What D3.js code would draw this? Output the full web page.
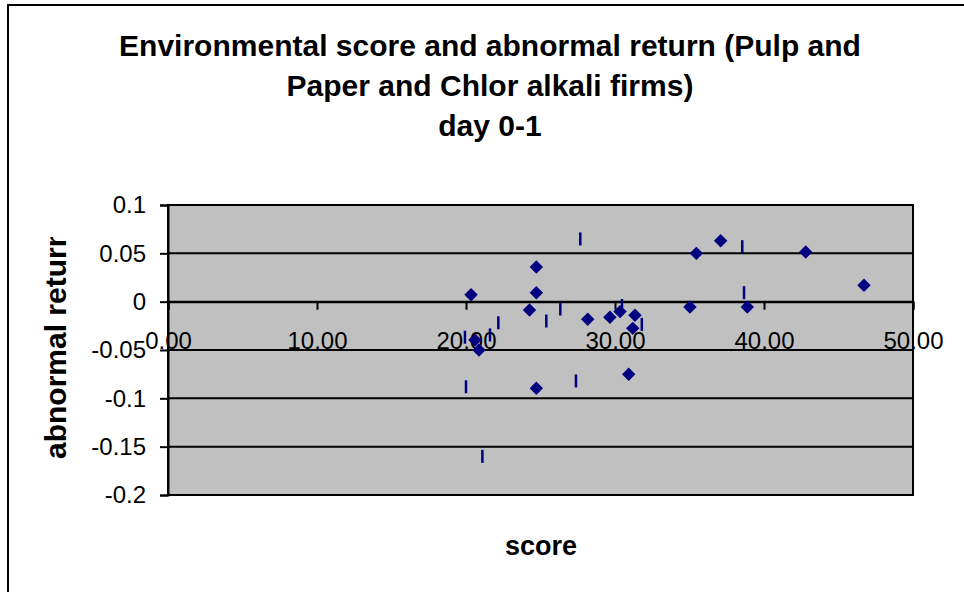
<!DOCTYPE html>
<html>
<head>
<meta charset="utf-8">
<script src="https://cdn.jsdelivr.net/npm/d3@7"></script>
<style>
  html, body { margin: 0; padding: 0; background: #ffffff; }
  svg { display: block; font-family: "Liberation Sans", Arial, sans-serif; }
</style>
</head>
<body>
<svg id="chart" width="964" height="592"></svg>
<script>
// ---- data ----
const titleLines = ["Environmental score and abnormal return (Pulp and", "Paper and Chlor alkali firms)", "day 0-1"];
const xTitle = "score";
const yTitle = "abnormal return";

const xTicks = [0, 10, 20, 30, 40, 50];
const yTicks = [0.1, 0.05, 0, -0.05, -0.1, -0.15, -0.2];

// series 1: diamond markers
const diamondScores  = [20.34, 24.72, 24.72, 24.26, 28.17, 29.66, 30.34, 31.34, 31.19, 20.60, 20.87, 30.92, 24.72, 35.46, 37.09, 42.80, 46.71, 35.03, 38.88];
const diamondReturns = [0.0072, 0.0359, 0.0093, -0.0086, -0.0182, -0.0162, -0.0103, -0.0140, -0.0276, -0.0396, -0.0500, -0.0750, -0.0896, 0.0500, 0.0630, 0.0514, 0.0170, -0.0055, -0.0055];

// series 2: vertical dash markers
const dashScores  = [27.67, 26.33, 25.39, 22.17, 21.61, 19.93, 20.00, 27.38, 30.47, 21.10, 38.54, 38.66, 31.80];
const dashReturns = [0.0649, -0.0076, -0.0200, -0.0218, -0.0344, -0.0368, -0.0880, -0.0820, -0.0040, -0.1600, 0.0569, 0.0093, -0.0235];

// ---- layout ----
const svg = d3.select("#chart");
const plot = { left: 168, right: 913, top: 205, bottom: 495 };
const navy = "#000080";
const fontFam = "'Liberation Sans', Arial, sans-serif";

const x = d3.scaleLinear().domain([0, 50]).range([plot.left, plot.right]);
const y = d3.scaleLinear().domain([-0.2, 0.1]).range([plot.bottom, plot.top]);

// outer chart border
svg.append("rect")
  .attr("x", 8).attr("y", 5).attr("width", 980).attr("height", 620)
  .attr("fill", "#ffffff").attr("stroke", "#000").attr("stroke-width", 2);

// title
const title = svg.append("text")
  .attr("text-anchor", "middle")
  .attr("font-weight", "bold")
  .attr("font-size", 30)
  .attr("fill", "#000");
titleLines.forEach((t, i) => {
  title.append("tspan").attr("x", 490).attr("y", 56 + i * 40).text(t);
});

// plot background
svg.append("rect")
  .attr("x", plot.left).attr("y", plot.top)
  .attr("width", plot.right - plot.left).attr("height", plot.bottom - plot.top)
  .attr("fill", "#c0c0c0");

// horizontal gridlines
svg.append("g").selectAll("line").data(yTicks).join("line")
  .attr("x1", plot.left).attr("x2", plot.right)
  .attr("y1", d => y(d)).attr("y2", d => y(d))
  .attr("stroke", "#000").attr("stroke-width", 2);

// plot border
svg.append("rect")
  .attr("x", plot.left).attr("y", plot.top)
  .attr("width", plot.right - plot.left).attr("height", plot.bottom - plot.top)
  .attr("fill", "none").attr("stroke", "#000").attr("stroke-width", 2);

// y axis (left)
const yAxis = d3.axisLeft(y).tickValues(yTicks).tickSize(8).tickPadding(14)
  .tickFormat(d => String(+d.toFixed(2)));
const gy = svg.append("g").attr("transform", `translate(${plot.left},0)`).call(yAxis);
gy.select(".domain").attr("stroke", "#000").attr("stroke-width", 2);
gy.selectAll(".tick line").attr("stroke", "#000").attr("stroke-width", 2);
gy.selectAll(".tick text").attr("font-size", 24).attr("fill", "#000")
  .attr("font-family", fontFam);

// x axis crossing at y = 0
const xAxis = d3.axisBottom(x).tickValues(xTicks).tickSize(8).tickPadding(22)
  .tickFormat(d => d.toFixed(2));
const gx = svg.append("g").attr("transform", `translate(0,${y(0)})`).call(xAxis);
gx.select(".domain").attr("stroke", "#000").attr("stroke-width", 2);
gx.selectAll(".tick line").attr("stroke", "#000").attr("stroke-width", 2);
gx.selectAll(".tick text").attr("font-size", 24).attr("fill", "#000")
  .attr("font-family", fontFam);

// axis titles
svg.append("text")
  .attr("x", 541).attr("y", 555)
  .attr("text-anchor", "middle").attr("font-weight", "bold").attr("font-size", 27)
  .text(xTitle);

svg.append("clipPath").attr("id", "ytclip")
  .append("rect").attr("x", 0).attr("y", 237).attr("width", 160).attr("height", 300);
svg.append("g").attr("clip-path", "url(#ytclip)")
  .append("text")
  .attr("transform", "translate(66,344) rotate(-90)")
  .attr("text-anchor", "middle").attr("font-weight", "bold").attr("font-size", 30)
  .text(yTitle);

// series 1: diamonds
const diamonds = diamondScores.map((s, i) => ({ s, r: diamondReturns[i] }));
const diamondPath = d3.symbol().type(d3.symbolSquare).size(90)();
svg.append("g").selectAll("path").data(diamonds).join("path")
  .attr("d", diamondPath)
  .attr("transform", d => `translate(${x(d.s)},${y(d.r)}) rotate(45)`)
  .attr("fill", navy);

// series 2: vertical dashes
const dashes = dashScores.map((s, i) => ({ s, r: dashReturns[i] }));
svg.append("g").selectAll("line").data(dashes).join("line")
  .attr("x1", d => x(d.s)).attr("x2", d => x(d.s))
  .attr("y1", d => y(d.r) - 6.5).attr("y2", d => y(d.r) + 6.5)
  .attr("stroke", navy).attr("stroke-width", 2.5);
</script>
</body>
</html>
